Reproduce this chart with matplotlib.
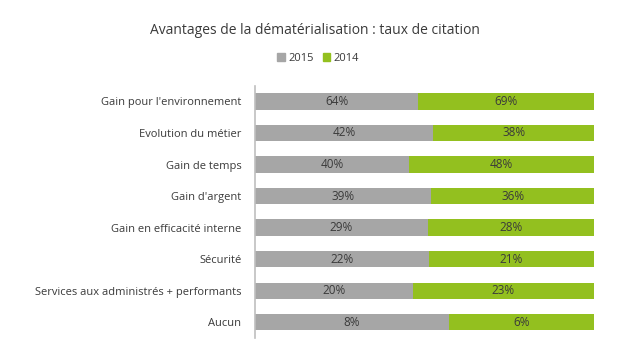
import matplotlib
matplotlib.use("Agg")
import matplotlib.pyplot as plt
from matplotlib.patches import Patch
import numpy as np

categories = ["Gain pour l'environnement", "Evolution du métier", "Gain de temps",
              "Gain d'argent", "Gain en efficacité interne", "Sécurité",
              "Services aux administrés + performants", "Aucun"]
v2015 = [64, 42, 40, 39, 29, 22, 20, 8]
v2014 = [69, 38, 48, 36, 28, 21, 23, 6]
series_names = ["2015", "2014"]

plt.rcParams['font.family'] = ['Open Sans', 'DejaVu Sans']
gray = '#a6a6a6'
green = '#93c01f'
txt = '#3a3a3a'

fig = plt.figure(figsize=(6.3, 3.54), dpi=100)
ax = fig.add_axes([0.405, 0.045, 0.538, 0.713])

a = np.array(v2015, float)
b = np.array(v2014, float)
tot = a + b
fa = a / tot
fb = b / tot
y = np.arange(len(categories))
h = 0.52
ax.barh(y, fa, height=h, color=gray, left=0)
ax.barh(y, fb, height=h, color=green, left=fa)
for i in range(len(y)):
    ax.text(fa[i] / 2, y[i], f"{v2015[i]}%", ha='center', va='center', fontsize=8.5, color=txt)
    ax.text(fa[i] + fb[i] / 2, y[i], f"{v2014[i]}%", ha='center', va='center', fontsize=8.5, color=txt)

ax.set_xlim(0, 1)
ax.set_ylim(len(categories) - 0.5, -0.5)
ax.set_yticks(y)
ax.set_yticklabels(categories, fontsize=8, color=txt)
ax.tick_params(axis='y', length=0, pad=10)
ax.set_xticks([])
for s in ['top', 'right', 'bottom']:
    ax.spines[s].set_visible(False)
ax.spines['left'].set_color('#bfbfbf')
ax.spines['left'].set_linewidth(1.2)

fig.text(0.5, 0.915, "Avantages de la dématérialisation : taux de citation",
         ha='center', va='center', fontsize=10, color=txt)
handles = [Patch(color=gray), Patch(color=green)]
fig.legend(handles, series_names, loc='center', bbox_to_anchor=(0.505, 0.835), ncol=2,
           frameon=False, fontsize=8, handlelength=0.7, handleheight=0.7,
           handletextpad=0.3, columnspacing=0.8, labelcolor=txt)

fig.savefig("out.png", dpi=100, facecolor='white')
